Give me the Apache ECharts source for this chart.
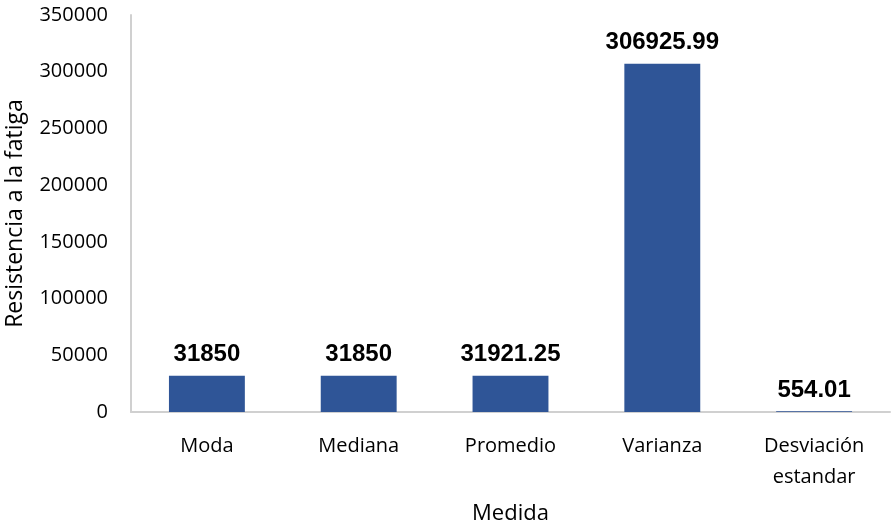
<!DOCTYPE html>
<html>
<head>
<meta charset="utf-8">
<script src="https://cdn.jsdelivr.net/npm/echarts@6/dist/echarts.min.js"></script>
<style>html,body{margin:0;padding:0;background:#fff;}#c{width:892px;height:525px;}</style>
</head>
<body>
<div id="c"></div>
<script>
const categories = ['Moda', 'Mediana', 'Promedio', 'Varianza', 'Desviación\nestandar'];
const values = [31850, 31850, 31921.25, 306925.99, 554.01];
const valueLabels = ['31850', '31850', '31921.25', '306925.99', '554.01'];
const yTicks = [0, 50000, 100000, 150000, 200000, 250000, 300000, 350000];

const chart = echarts.init(document.getElementById('c'));
chart.setOption({
  animation: false,
  grid: { left: 131, right: 2, top: 15, bottom: 113, containLabel: false, outerBoundsMode: 'none' },
  xAxis: {
    type: 'category',
    data: categories,
    name: 'Medida',
    nameLocation: 'middle',
    nameGap: 91,
    nameTextStyle: { fontFamily: 'Open Sans', fontSize: 22, color: '#000' },
    axisLine: { lineStyle: { color: '#d0d0d0', width: 2 } },
    axisTick: { show: false },
    axisLabel: { fontFamily: 'Open Sans', fontSize: 20, color: '#000', margin: 19, lineHeight: 31 }
  },
  yAxis: {
    type: 'value',
    min: yTicks[0],
    max: yTicks[yTicks.length - 1],
    interval: 50000,
    name: 'Resistencia a la fatiga',
    nameLocation: 'middle',
    nameGap: 104,
    nameTextStyle: { fontFamily: 'Open Sans', fontSize: 23, color: '#000' },
    axisLine: { show: true, lineStyle: { color: '#d0d0d0', width: 2 } },
    axisTick: { show: false },
    splitLine: { show: false },
    axisLabel: { fontFamily: 'Open Sans', fontSize: 20, color: '#000', margin: 23, formatter: v => String(v) }
  },
  series: [{
    type: 'bar',
    data: values,
    barWidth: '50%',
    itemStyle: { color: '#2F5597' },
    label: {
      show: true,
      position: 'top',
      distance: 9,
      fontFamily: 'Liberation Sans',
      fontWeight: 'bold',
      fontSize: 24,
      color: '#000',
      formatter: p => valueLabels[p.dataIndex]
    }
  }]
});
</script>
</body>
</html>
